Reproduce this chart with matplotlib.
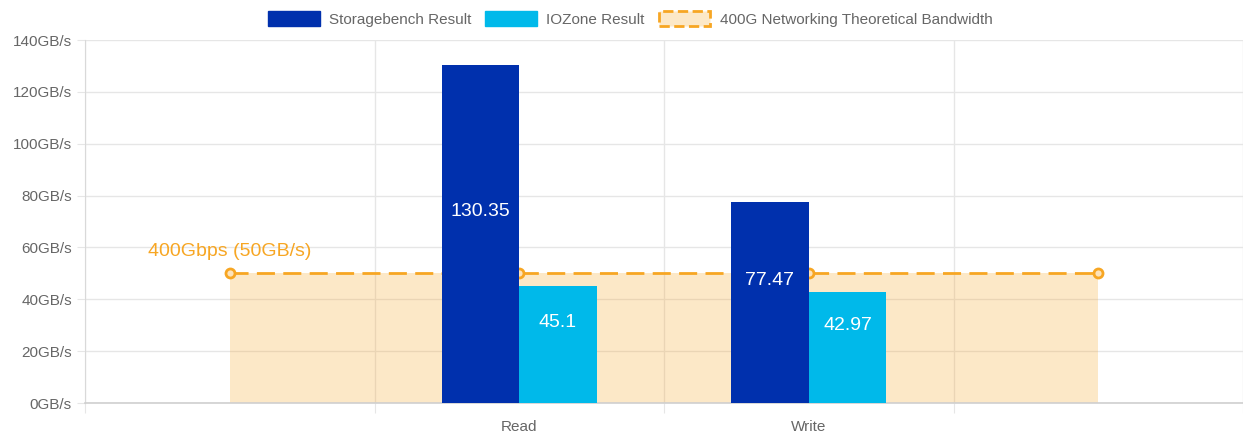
"""Storage bandwidth chart: benchmark results vs 400G network limit."""

import matplotlib
matplotlib.use("Agg")
import matplotlib.pyplot as plt
from matplotlib.patches import Patch
from matplotlib.ticker import FuncFormatter

categories = ["", "Read", "Write", ""]
storagebench = [None, 130.35, 77.47, None]
iozone = [None, 45.1, 42.97, None]
network_limit = [50, 50, 50, 50]
y_ticks = [0, 20, 40, 60, 80, 100, 120, 140]
series_names = ["Storagebench Result", "IOZone Result", "400G Networking Theoretical Bandwidth"]
limit_label = "400Gbps (50GB/s)"

DARK = "#0030AD"
CYAN = "#00B9EA"
ORANGE = "#F7A623"
GRID = "#e6e6e6"
TEXT = "#666666"


def draw_bars(ax, values, offset, width, color):
    for i, v in enumerate(values):
        if v is None:
            continue
        ax.bar(i + offset, v, width=width, color=color, zorder=3)
        ax.annotate(str(v), xy=(i + offset, v / 2), xytext=(0, 16), textcoords="offset points",
                    ha="center", va="center", color="white", fontsize=14, zorder=4)


def main() -> None:
    plt.rcParams["font.family"] = ["Liberation Sans", "DejaVu Sans"]
    fig = plt.figure(figsize=(12.43, 4.36), dpi=100)
    ax = fig.add_axes([85 / 1243, 33 / 436, 1158 / 1243, 363 / 436])

    xs = list(range(len(categories)))
    ax.fill_between(xs, 0, network_limit, color=ORANGE, alpha=0.25, lw=0, zorder=1)
    ax.plot(xs, network_limit, color=ORANGE, lw=2, dashes=(6.5, 3), marker="o", ms=6.5,
            mfc="#fde3bb", mec=ORANGE, mew=2, zorder=2)
    ax.annotate(limit_label, xy=(xs[0], network_limit[0]), xytext=(0, 16), textcoords="offset points",
                ha="center", va="center", color=ORANGE, fontsize=14)

    width = 0.268
    draw_bars(ax, storagebench, -width / 2, width, DARK)
    draw_bars(ax, iozone, width / 2, width, CYAN)

    ax.set_xlim(-0.5, -0.5 + 1158 / 291)
    ax.set_ylim(0, 140)
    ax.set_yticks(y_ticks)
    ax.yaxis.set_major_formatter(FuncFormatter(lambda v, _: f"{int(v)}GB/s"))

    ax.set_xticks([i - 0.5 for i in range(len(categories) + 1)])
    ax.set_xticklabels([])
    ax.set_xticks(xs, minor=True)
    ax.set_xticklabels(categories, minor=True)

    ax.set_axisbelow(True)
    ax.grid(True, color=GRID, lw=1, zorder=0)
    for side in ("top", "right"):
        ax.spines[side].set_visible(False)
    ax.spines["left"].set_color("#d9d9d9")
    ax.spines["bottom"].set_color("#cfcfcf")
    ax.spines["bottom"].set_linewidth(1.2)

    ax.tick_params(axis="y", length=5.5, color=GRID, labelcolor=TEXT, labelsize=11, pad=4)
    ax.tick_params(axis="x", which="major", length=7, color=GRID)
    ax.tick_params(axis="x", which="minor", length=0, pad=12, labelcolor=TEXT, labelsize=11)

    handles = [
        Patch(facecolor=DARK, edgecolor=DARK),
        Patch(facecolor=CYAN, edgecolor=CYAN),
        Patch(facecolor=(247 / 255, 166 / 255, 35 / 255, 0.25), edgecolor=ORANGE, linestyle="--", lw=2),
    ]
    fig.legend(handles, series_names, loc="center", bbox_to_anchor=(0.507, 0.956), ncol=3,
               frameon=False, fontsize=11, handlelength=3.4, handleheight=1.1,
               handletextpad=0.6, columnspacing=0.9, labelcolor=TEXT)

    fig.savefig("out.png", dpi=100)
    plt.close(fig)


if __name__ == "__main__":
    main()
